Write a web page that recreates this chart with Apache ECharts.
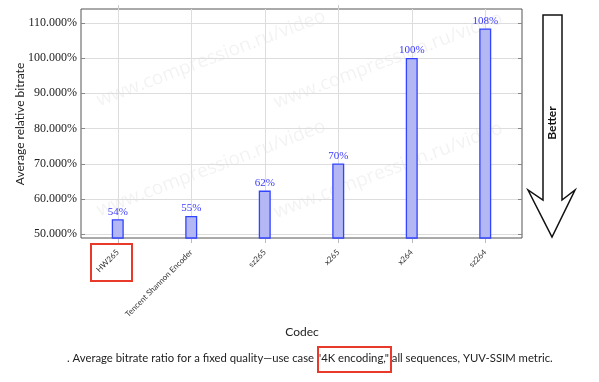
<!DOCTYPE html>
<html>
<head>
<meta charset="utf-8">
<script src="https://cdn.jsdelivr.net/npm/echarts@6/dist/echarts.min.js"></script>
<style>html,body{margin:0;padding:0;background:#fff}#c{width:599px;height:382px}</style>
</head>
<body>
<div id="c"></div>
<script>
const categories = ['HW265', 'Tencent Shannon Encoder', 'sz265', 'x265', 'x264', 'sz264'];
const values = [54.3, 55.2, 62.4, 70.1, 100.0, 108.4];
const valueLabels = ['54%', '55%', '62%', '70%', '100%', '108%'];
const yTicks = [50, 60, 70, 80, 90, 100, 110];
const yTitle = 'Average relative bitrate';
const xTitle = 'Codec';
const caption = '. Average bitrate ratio for a fixed quality\u2014use case "4K encoding," all sequences, YUV-SSIM metric.';
const watermark = 'www.compression.ru/video';

const chart = echarts.init(document.getElementById('c'), null, {renderer: 'canvas'});
const serif = 'Liberation Serif';
const sans = 'Lato';
const wmStyle = {fill: 'rgba(0,0,0,0.05)', font: '19px "Open Sans"', textVerticalAlign: 'bottom'};
const wmPos = [[101,110],[278,112],[101,220],[278,222]];

chart.setOption({
  animation: false,
  grid: {left: 81, top: 9, right: 77, bottom: 144, show: true, borderColor: '#555', borderWidth: 1, backgroundColor: 'transparent'},
  xAxis: [{
    type: 'category', data: categories, boundaryGap: true,
    axisLine: {show: false},
    axisTick: {show: true, alignWithLabel: true, inside: false, length: 5, lineStyle: {color: '#bbb'}},
    splitLine: {show: true, alignWithLabel: true, lineStyle: {color: '#ddd'}},
    axisLabel: {rotate: 45, fontSize: 8, fontFamily: sans, color: '#333', margin: 13, interval: 0}
  }, {
    type: 'category', data: categories, position: 'top', boundaryGap: true,
    axisLine: {show: false},
    axisTick: {show: true, alignWithLabel: true, length: 4, lineStyle: {color: '#ccc'}},
    axisLabel: {show: false}
  }],
  yAxis: [{
    type: 'value', min: 48.95, max: 113.9,
    axisLine: {show: false},
    axisTick: {show: true, inside: true, length: 4, customValues: yTicks, lineStyle: {color: '#888'}},
    splitLine: {show: true, customValues: yTicks, lineStyle: {color: '#ddd'}},
    axisLabel: {customValues: yTicks, fontFamily: serif, fontSize: 12, color: '#222', margin: 4,
      formatter: v => v.toFixed(3) + '%'}
  }, {
    type: 'value', min: 48.95, max: 113.9, position: 'right',
    axisLine: {show: false},
    axisTick: {show: true, inside: true, length: 4, customValues: yTicks, lineStyle: {color: '#888'}},
    splitLine: {show: false},
    axisLabel: {show: false}
  }],
  series: [{
    type: 'bar', data: values, barWidth: 12,
    itemStyle: {color: '#b3b8f5', borderColor: '#3344ff', borderWidth: 1.3},
    label: {show: true, position: 'top', distance: 2, fontFamily: serif, fontSize: 11, color: '#3b3bff',
      formatter: p => valueLabels[p.dataIndex]}
  }],
  graphic: [
    ...wmPos.map(p => ({type: 'text', x: p[0], y: p[1], rotation: 0.36, silent: true, z: 0,
      style: Object.assign({text: watermark}, wmStyle)})),
    {type: 'text', x: 20, y: 124, rotation: Math.PI / 2,
      style: {text: yTitle, font: '12px Lato', fill: '#222', textAlign: 'center', textVerticalAlign: 'middle'}},
    {type: 'text', x: 302, y: 332,
      style: {text: xTitle, font: '12px Lato', fill: '#222', textAlign: 'center', textVerticalAlign: 'middle'}},
    {type: 'text', x: 67, y: 358,
      style: {text: caption, font: '11.3px Lato', fill: '#222', textAlign: 'left', textVerticalAlign: 'middle'}},
    {type: 'rect', shape: {x: 91, y: 244, width: 41, height: 37},
      style: {fill: 'none', stroke: '#e8392b', lineWidth: 2}},
    {type: 'rect', shape: {x: 318, y: 347, width: 73, height: 25},
      style: {fill: 'none', stroke: '#e8392b', lineWidth: 2}},
    {type: 'polygon', shape: {points: [[543,15],[562,15],[562,200],[575,190],[552,237],[528,190],[543,200]]},
      style: {fill: '#fff', stroke: '#111', lineWidth: 1.5}},
    {type: 'text', x: 552, y: 123, rotation: Math.PI / 2,
      style: {text: 'Better', font: 'bold 12px Lato', fill: '#111', textAlign: 'center', textVerticalAlign: 'middle'}}
  ]
});
</script>
</body>
</html>
